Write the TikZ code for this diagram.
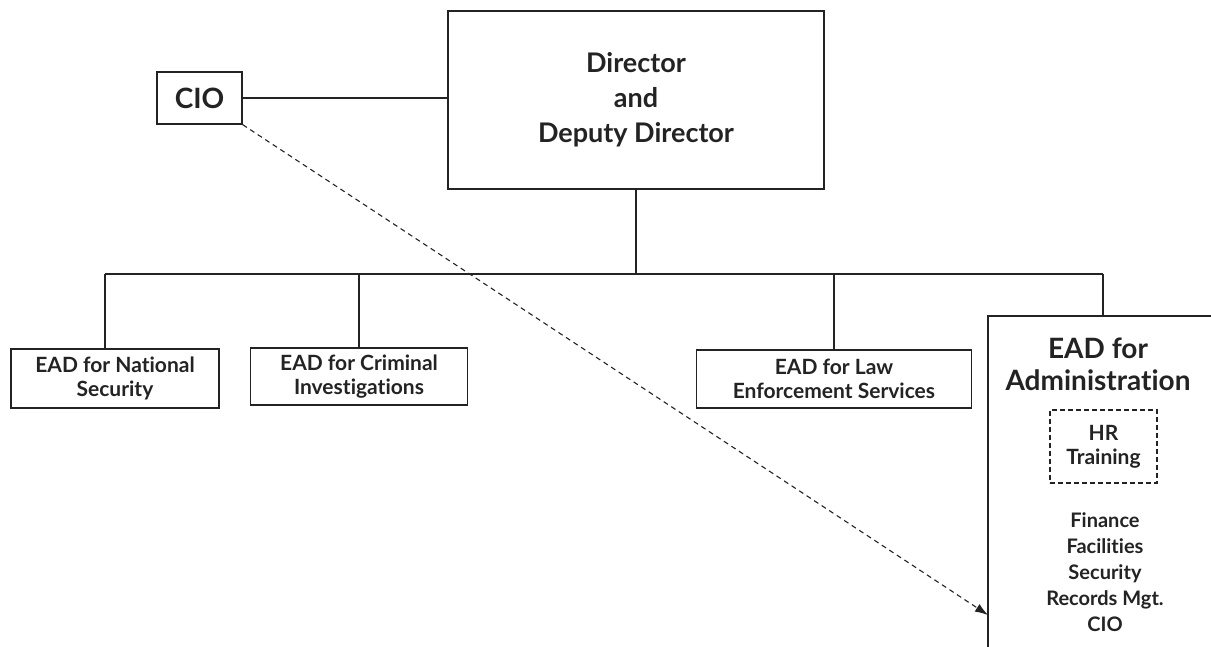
\documentclass[tikz,border=0pt]{standalone}
\usepackage{fontspec}
\setmainfont{Lato}[Ligatures=NoCommon]
\usepackage{tikz}
\usetikzlibrary{shapes,arrows,arrows.meta,positioning}
\definecolor{ink}{RGB}{35, 35, 35}
\newcommand{\fs}[2]{\fontsize{#1}{#2}\selectfont}
\tikzstyle{unit} = [rectangle, draw=ink, line width=1.4pt, text=ink, align=center, inner sep=0pt, font=\bfseries\fs{21}{24}]
\tikzstyle{textonly} = [draw=none, fill=none, text=ink, align=center, inner sep=0pt, font=\bfseries\fs{20}{26}]
\tikzstyle{tline} = [draw=ink, line width=1.4pt]
\tikzstyle{tedge} = [draw=ink, line width=1.1pt, dash pattern=on 5pt off 4pt, -{Latex[length=13pt,width=9pt]}]

\begin{document}
\begin{tikzpicture}[x=1pt, y=-1pt]

\useasboundingbox (0,0) rectangle (1211,646);

% boxes =============================

% nodes
\node[unit, minimum width=376pt, minimum height=178pt, font=\bfseries\fs{27}{35}] (dir) at (636,100) {Director\\and\\Deputy Director};
\node[unit, minimum width=85pt, minimum height=52pt, font=\bfseries\fs{28}{30}] (cio) at (199.5,98) {CIO};
\node[unit, minimum width=208pt, minimum height=59pt] (ns) at (115,378.5) {EAD for National\\Security};
\node[unit, minimum width=217pt, minimum height=57pt] (crim) at (359,376.5) {EAD for Criminal\\Investigations};
\node[unit, minimum width=275pt, minimum height=58pt] (law) at (834,379) {EAD for Law\\Enforcement Services};
\node[unit, draw=none, anchor=north west, minimum width=223pt, minimum height=330pt] (adm) at (988,316) {};
\node[textonly, font=\bfseries\fs{28}{32}] (admtitle) at (1098,364) {EAD for\\Administration};
\node[unit, dash pattern=on 5pt off 3pt, line width=1.1pt, minimum width=107pt, minimum height=73pt] (hr) at (1103.5,446.5) {HR\\Training};
\node[textonly] (admlist) at (1105,572) {Finance\\Facilities\\Security\\Records Mgt.\\CIO};

% bus
\coordinate (busL) at (105,274);
\coordinate (busR) at (1103,274);
\coordinate (admin) at (988,615);

% edges
\draw[tline] (adm.south west) -- (adm.north west) -- (adm.north east);
\draw[tline] (cio.east) -- (cio.east -| dir.west);
\draw[tline] (dir.south) -- (dir.south |- busL);
\draw[tline] (busL) -- (busR);
\draw[tline] (busL) -- (busL |- ns.north);
\draw[tline] (crim.north |- busL) -- (crim.north);
\draw[tline] (law.north |- busL) -- (law.north);
\draw[tline] (busR) -- (busR |- adm.north);
\path[tedge] (cio.south east) -- (admin);

\end{tikzpicture}
\end{document}
